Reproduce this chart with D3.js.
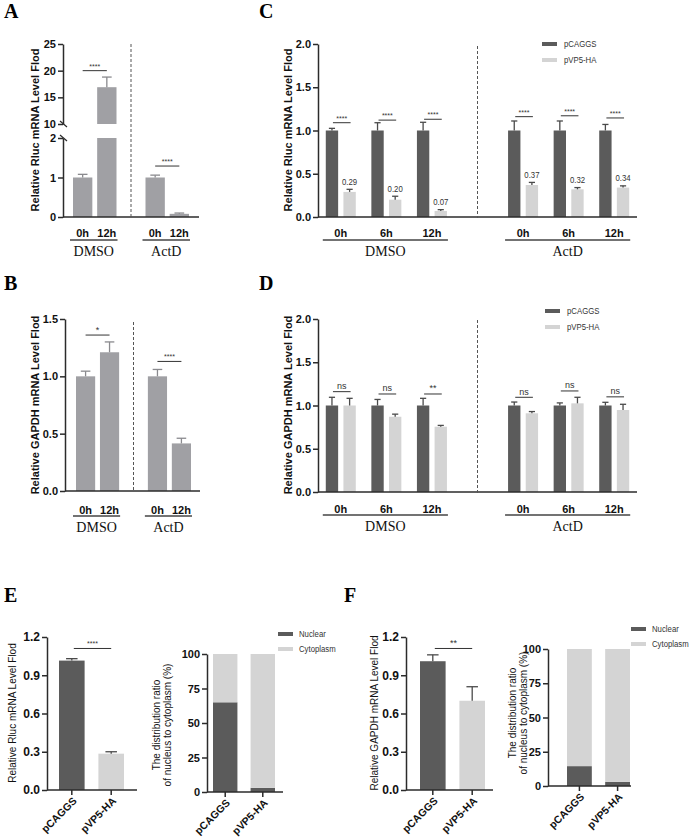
<!DOCTYPE html>
<html>
<head>
<meta charset="utf-8">
<script src="https://cdn.jsdelivr.net/npm/d3@7"></script>
<style>
  body { margin: 0; background: #fff; }
  svg { display: block; }
</style>
</head>
<body>
<svg id="fig" width="692" height="840"></svg>
<script>
const DARK = "#5b5b5b", LIGHT = "#d4d4d4", MID = "#a0a0a4", INK = "#2b2b2b";
const SANS = "'Liberation Sans', Arial, sans-serif";
const SERIF = "'Liberation Serif', 'Times New Roman', serif";

// --- panel A : Rluc, DMSO / ActD, 0h / 12h
const abGroups = ["DMSO", "ActD"];
const abTimes = ["0h", "12h"];
const aValues = [1.0, 16.9, 1.0, 0.08];
const aErrTop = [1.08, 18.8, 1.06, 0.10];
const aSigText = ["****", "****"];
const aSigLevel = [20.0, 1.29];
const aTicksLow = [0, 1, 2];
const aTicksHigh = [10, 15, 20, 25];

// --- panel B : GAPDH
const bValues = [1.0, 1.21, 1.0, 0.415];
const bErrTop = [1.045, 1.30, 1.06, 0.46];
const bSigText = ["*", "****"];
const bSigLevel = [1.36, 1.13];
const bTicks = [0, 0.5, 1.0, 1.5];

// --- panels C / D : pCAGGS vs pVP5-HA at 0h, 6h, 12h
const cdGroups = ["DMSO", "ActD"];
const cdTimes = ["0h", "6h", "12h"];
const seriesNames = ["pCAGGS", "pVP5-HA"];
const cdTicks = [0, 0.5, 1.0, 1.5, 2.0];

const cPCAGGS = [1, 1, 1, 1, 1, 1];
const cPCAGGSErr = [1.025, 1.09, 1.095, 1.11, 1.11, 1.07];
const cVP5 = [0.29, 0.20, 0.07, 0.37, 0.32, 0.34];
const cVP5Err = [0.32, 0.24, 0.085, 0.40, 0.34, 0.36];
const cSigText = ["****", "****", "****", "****", "****", "****"];
const cSigLevel = [1.09, 1.12, 1.13, 1.16, 1.17, 1.145];

const dPCAGGS = [1, 1, 1, 1, 1, 1];
const dPCAGGSErr = [1.095, 1.07, 1.083, 1.04, 1.03, 1.037];
const dVP5 = [1.0, 0.87, 0.755, 0.91, 1.025, 0.948];
const dVP5Err = [1.083, 0.90, 0.77, 0.93, 1.095, 1.014];
const dSigText = ["ns", "ns", "**", "ns", "ns", "ns"];
const dSigLevel = [1.16, 1.133, 1.133, 1.095, 1.168, 1.10];

// --- panels E / F
const efCats = ["pCAGGS", "pVP5-HA"];
const efTicks = [0, 0.3, 0.6, 0.9, 1.2];
const eRluc = [1.015, 0.285];
const eRlucErr = [1.03, 0.30];
const fGapdh = [1.01, 0.70];
const fGapdhErr = [1.06, 0.81];
const stackKeys = ["Nuclear", "Cytoplasm"];
const stackTicks = [0, 25, 50, 75, 100];
const eNuclear = [65, 3];
const eCytoplasm = [35, 97];
const fNuclear = [14.5, 3];
const fCytoplasm = [85.5, 97];

const svg = d3.select("#fig");

function panelLetter(t, x, y) {
  svg.append("text").attr("x", x).attr("y", y).text(t)
    .attr("font-family", SERIF).attr("font-weight", "bold").attr("font-size", 20);
}

// condensed text (the figure uses an Arial Narrow-like face)
function narrowText(x, y, str, fs, anchor) {
  return svg.append("text").attr("transform", `translate(${x},${y}) scale(0.82,1)`)
    .attr("text-anchor", anchor || "start").attr("dy", "0.35em")
    .attr("font-family", SANS).attr("font-size", fs).attr("fill", "#333").text(str);
}

function styleAxis(ax, fs) {
  ax.attr("font-family", SANS).attr("font-weight", "bold").attr("font-size", fs);
  ax.select(".domain").attr("stroke", INK).attr("stroke-width", 1.5);
  ax.selectAll(".tick line").attr("stroke", INK).attr("stroke-width", 1.5);
  ax.selectAll(".tick text").attr("fill", "#111");
}

function leftAxis(y, ticks, x, fmt, fs) {
  const ax = svg.append("g").attr("transform", `translate(${x},0)`)
    .call(d3.axisLeft(y).tickValues(ticks).tickFormat(fmt).tickSize(5).tickSizeOuter(0).tickPadding(2));
  styleAxis(ax, fs);
  return ax;
}

function hLine(x1, x2, y, w, color) {
  svg.append("line").attr("x1", x1).attr("x2", x2).attr("y1", y).attr("y2", y)
    .attr("stroke", color || INK).attr("stroke-width", w || 1.5);
}

function yTitle(lines, cx, cy, bold, fs) {
  const t = svg.append("text")
    .attr("transform", `translate(${cx},${cy}) rotate(-90)`)
    .attr("text-anchor", "middle")
    .attr("font-family", SANS).attr("font-size", fs)
    .attr("font-weight", bold ? "bold" : "normal").attr("fill", "#111");
  const n = lines.length, gap = fs + 0.5;
  lines.forEach((l, i) => {
    t.append("tspan").attr("x", 0).attr("y", (i - (n - 1) / 2) * gap).attr("dy", "0.35em").text(l);
  });
}

function errorBar(cx, yTop, yEnd, cap, color) {
  svg.append("line").attr("x1", cx).attr("x2", cx).attr("y1", yTop).attr("y2", yEnd)
    .attr("stroke", color).attr("stroke-width", 1.3);
  svg.append("line").attr("x1", cx - cap / 2).attr("x2", cx + cap / 2).attr("y1", yEnd).attr("y2", yEnd)
    .attr("stroke", color).attr("stroke-width", 1.3);
}

function sigMark(x1, x2, y, label) {
  hLine(x1, x2, y, 1, "#333");
  const small = label.indexOf("*") >= 0 && label.length > 2;
  svg.append("text").attr("x", (x1 + x2) / 2).attr("y", y - (small ? 2 : 2.5))
    .attr("text-anchor", "middle").attr("font-family", SANS)
    .attr("font-size", small ? 7 : 9).attr("fill", "#333").text(label);
}

function groupLabels(groups, extents, lineY, groupY) {
  groups.forEach((g, gi) => {
    const [a, b] = extents[gi];
    hLine(a, b, lineY, 1.5, "#444");
    svg.append("text").attr("x", (a + b) / 2).attr("y", groupY).attr("text-anchor", "middle")
      .attr("font-family", SERIF).attr("font-size", 14).attr("fill", "#111").text(g);
  });
}

function timeLabel(x, y, t) {
  svg.append("text").attr("x", x).attr("y", y).attr("text-anchor", "middle")
    .attr("font-family", SANS).attr("font-weight", "bold").attr("font-size", 11)
    .attr("fill", "#111").text(t);
}

// A and B: two groups, two times, single grey colour, optional broken axis
function drawTwoGroupPanel(o) {
  const keys = [];
  o.groups.forEach((g, gi) => {
    if (gi > 0) keys.push("gap");
    o.times.forEach(t => keys.push(g + "|" + t));
  });
  const x = d3.scaleBand().domain(keys).range(o.bandRange).paddingInner(0.2);
  const bw = x.bandwidth();
  const segs = o.segments.map(s => ({ s, y: d3.scaleLinear().domain(s.domain).range(s.range) }));
  const yOf = v => (segs.find(d => v <= d.s.domain[1]) || segs[segs.length - 1]).y(v);
  const barKeys = keys.filter(k => k !== "gap");

  barKeys.forEach((k, i) => {
    const v = o.values[i];
    segs.forEach(d => {
      if (v <= d.s.domain[0]) return;
      const top = d.y(Math.min(v, d.s.domain[1]));
      svg.append("rect").attr("x", x(k)).attr("width", bw)
        .attr("y", top).attr("height", d.y(d.s.domain[0]) - top).attr("fill", o.color);
    });
    errorBar(x(k) + bw / 2, yOf(v), yOf(o.errs[i]), bw * 0.5, "#8a8a8e");
  });

  // axes (with break marks between segments)
  segs.forEach(d => leftAxis(d.y, d.s.ticks, o.axisX, o.fmt, 11));
  for (let i = 1; i < segs.length; i++) {
    [segs[i - 1].y(segs[i - 1].s.domain[1]), segs[i].y(segs[i].s.domain[0])].forEach(yy => {
      svg.append("line").attr("x1", o.axisX - 3).attr("x2", o.axisX + 4)
        .attr("y1", yy - 3).attr("y2", yy + 3).attr("stroke", INK).attr("stroke-width", 1.2);
    });
  }
  hLine(o.axisX, o.axisEnd, yOf(0), 1.5);

  // dashed divider
  const gx = x("gap") + bw / 2;
  svg.append("line").attr("x1", gx).attr("x2", gx).attr("y1", o.dashTop).attr("y2", yOf(0) + 1)
    .attr("stroke", "#555").attr("stroke-width", 1).attr("stroke-dasharray", "3,2");

  const extents = [];
  o.groups.forEach((g, gi) => {
    const ks = o.times.map(t => g + "|" + t);
    const c1 = x(ks[0]) + bw / 2, c2 = x(ks[ks.length - 1]) + bw / 2;
    sigMark(c1, c2, yOf(o.sigLevel[gi]), o.sigText[gi]);
    ks.forEach((k, ti) => timeLabel(x(k) + bw / 2, o.labelY, o.times[ti]));
    extents.push([x(ks[0]) - 3, x(ks[ks.length - 1]) + bw + 1]);
  });
  groupLabels(o.groups, extents, o.lineY, o.groupY);
  yTitle([o.title], o.titleX, o.titleY, true, 11);
}

// C and D: pairs of bars per time point
function drawPairPanel(o) {
  const slots = [];
  o.groups.forEach((g, gi) => {
    if (gi > 0) slots.push("gap");
    o.times.forEach(t => slots.push(g + "|" + t));
  });
  const x = d3.scaleBand().domain(slots).range([o.axisX, o.axisEnd]);
  const sub = d3.scaleBand().domain(seriesNames).range([-15, 15]).paddingInner(0.3);
  const bw = sub.bandwidth();
  const y = d3.scaleLinear().domain([0, 2]).range(o.yRange);
  const colors = [DARK, LIGHT];
  const dataSlots = slots.filter(s => s !== "gap");

  dataSlots.forEach((s, i) => {
    const cx = x(s) + x.bandwidth() / 2;
    seriesNames.forEach((name, k) => {
      const v = o.series[k][i], e = o.errs[k][i];
      const bx = cx + sub(name);
      svg.append("rect").attr("x", bx).attr("width", bw).attr("y", y(v))
        .attr("height", y(0) - y(v)).attr("fill", colors[k]);
      errorBar(bx + bw / 2, y(v), y(e), bw * 0.5, "#4a4a4a");
      if (o.showValues && k === 1) {
        narrowText(bx + bw / 2, y(e) - 8, d3.format(".2f")(v), 9.5, "middle");
      }
    });
    const c1 = cx + sub(seriesNames[0]) + bw / 2, c2 = cx + sub(seriesNames[1]) + bw / 2;
    sigMark(c1 + 1, c2 + 1, y(o.sigLevel[i]), o.sigText[i]);
  });

  leftAxis(y, cdTicks, o.axisX, d3.format(".1f"), 11);
  hLine(o.axisX, o.axisEnd, y(0), 1.5);

  const gx = x("gap") + x.bandwidth() / 2;
  svg.append("line").attr("x1", gx).attr("x2", gx).attr("y1", o.dashTop).attr("y2", y(0) + 1)
    .attr("stroke", "#555").attr("stroke-width", 1).attr("stroke-dasharray", "3,2");

  const extents = [];
  o.groups.forEach(g => {
    const ks = o.times.map(t => g + "|" + t);
    ks.forEach((k, ti) => timeLabel(x(k) + x.bandwidth() / 2, o.labelY, o.times[ti]));
    const first = x(ks[0]) + x.bandwidth() / 2 + sub(seriesNames[0]);
    const last = x(ks[ks.length - 1]) + x.bandwidth() / 2 + sub(seriesNames[1]) + bw;
    extents.push([first - 3, last + 1]);
  });
  groupLabels(o.groups, extents, o.lineY, o.groupY);

  // legend
  seriesNames.forEach((name, k) => {
    const ly = o.legend[1] + k * 16;
    svg.append("rect").attr("x", o.legend[0]).attr("y", ly - 2).attr("width", 15).attr("height", 4).attr("fill", colors[k]);
    narrowText(o.legend[0] + 22, ly, name, 9.5);
  });
  yTitle([o.title], o.titleX, o.titleY, true, 11);
}

function bottomCatAxis(x, yPos, axisX, axisEnd) {
  const ax = svg.append("g").attr("transform", `translate(0,${yPos})`)
    .call(d3.axisBottom(x).tickSize(5).tickSizeOuter(0));
  styleAxis(ax, 10.5);
  ax.select(".domain").remove();
  ax.selectAll(".tick text")
    .attr("text-anchor", "end").attr("x", 0).attr("y", 0).attr("dy", "0.35em")
    .attr("transform", "translate(3,9) rotate(-45)");
  hLine(axisX, axisEnd, yPos, 1.5);
}

// E / F left: two bars
function drawTwoBars(o) {
  const x = d3.scaleBand().domain(efCats).range(o.bandRange).paddingInner(0.35);
  const bw = x.bandwidth();
  const y = d3.scaleLinear().domain([0, 1.2]).range(o.yRange);
  const colors = [DARK, LIGHT];
  efCats.forEach((c, i) => {
    svg.append("rect").attr("x", x(c)).attr("width", bw).attr("y", y(o.values[i]))
      .attr("height", y(0) - y(o.values[i])).attr("fill", colors[i]);
    errorBar(x(c) + bw / 2, y(o.values[i]), y(o.errs[i]), bw * 0.45, "#4a4a4a");
  });
  leftAxis(y, efTicks, o.axisX, d3.format(".1f"), 12);
  bottomCatAxis(x, y(0), o.axisX, o.axisEnd);
  sigMark(x(efCats[0]) + bw / 2 + 2, x(efCats[1]) + bw / 2, y(o.sigLevel), o.sigText);
  yTitle([o.title], o.titleX, o.titleY, false, 10);
}

// E / F right: stacked percentage bars
function drawStack(o) {
  const x = d3.scaleBand().domain(efCats).range(o.bandRange).paddingInner(0.35);
  const y = d3.scaleLinear().domain([0, 100]).range(o.yRange);
  const rows = efCats.map((c, i) => ({ cat: c, Nuclear: o.nuclear[i], Cytoplasm: o.cytoplasm[i] }));
  const color = d3.scaleOrdinal().domain(stackKeys).range([DARK, LIGHT]);
  const layers = d3.stack().keys(stackKeys)(rows);
  svg.append("g").selectAll("g").data(layers).join("g").attr("fill", d => color(d.key))
    .selectAll("rect").data(d => d).join("rect")
    .attr("x", d => x(d.data.cat)).attr("width", x.bandwidth())
    .attr("y", d => y(d[1])).attr("height", d => y(d[0]) - y(d[1]));
  leftAxis(y, stackTicks, o.axisX, d3.format("d"), 11);
  bottomCatAxis(x, y(0), o.axisX, o.axisEnd);
  stackKeys.forEach((k, i) => {
    const ly = o.legend[1] + i * 15;
    svg.append("rect").attr("x", o.legend[0]).attr("y", ly - 2).attr("width", 15).attr("height", 4).attr("fill", color(k));
    narrowText(o.legend[0] + 21, ly, k, 9.5);
  });
  yTitle(["The distribution ratio", "of nucleus to cytoplasm (%)"], o.titleX, o.titleY, false, 10);
}

panelLetter("A", 4, 18);
panelLetter("B", 4, 290);
panelLetter("C", 259, 18);
panelLetter("D", 259, 290);
panelLetter("E", 4, 602);
panelLetter("F", 344, 602);

drawTwoGroupPanel({
  groups: abGroups, times: abTimes, values: aValues, errs: aErrTop,
  sigText: aSigText, sigLevel: aSigLevel,
  segments: [
    { domain: [0, 2], range: [217, 138], ticks: aTicksLow },
    { domain: [10, 25], range: [124, 44], ticks: aTicksHigh }
  ],
  axisX: 63, axisEnd: 199, bandRange: [73, 189], color: MID, fmt: d3.format("d"),
  dashTop: 44, labelY: 237, lineY: 240, groupY: 256,
  title: "Relative Rluc mRNA Level Flod", titleX: 35, titleY: 130
});

drawTwoGroupPanel({
  groups: abGroups, times: abTimes, values: bValues, errs: bErrTop,
  sigText: bSigText, sigLevel: bSigLevel,
  segments: [{ domain: [0, 1.5], range: [491, 319], ticks: bTicks }],
  axisX: 65, axisEnd: 200, bandRange: [76, 191], color: MID, fmt: d3.format(".1f"),
  dashTop: 322, labelY: 514, lineY: 516, groupY: 532,
  title: "Relative GAPDH mRNA Level Flod", titleX: 35, titleY: 405
});

drawPairPanel({
  groups: cdGroups, times: cdTimes,
  series: [cPCAGGS, cVP5], errs: [cPCAGGSErr, cVP5Err],
  sigText: cSigText, sigLevel: cSigLevel, showValues: true,
  axisX: 318, axisEnd: 637, yRange: [217, 44], dashTop: 46,
  labelY: 237, lineY: 240, groupY: 256, legend: [542, 44],
  title: "Relative Rluc mRNA Level Flod", titleX: 288, titleY: 130
});

drawPairPanel({
  groups: cdGroups, times: cdTimes,
  series: [dPCAGGS, dVP5], errs: [dPCAGGSErr, dVP5Err],
  sigText: dSigText, sigLevel: dSigLevel, showValues: false,
  axisX: 318, axisEnd: 637, yRange: [492, 319], dashTop: 320,
  labelY: 513, lineY: 515, groupY: 531, legend: [545, 311],
  title: "Relative GAPDH mRNA Level Flod", titleX: 288, titleY: 405
});

drawTwoBars({
  values: eRluc, errs: eRlucErr, sigText: "****", sigLevel: 1.11,
  bandRange: [59, 124], yRange: [790, 637], axisX: 47, axisEnd: 137,
  title: "Relative Rluc mRNA Level Flod", titleX: 12, titleY: 713
});
drawStack({
  nuclear: eNuclear, cytoplasm: eCytoplasm,
  bandRange: [213, 275], yRange: [792, 654], axisX: 207, axisEnd: 283,
  legend: [278, 634], titleX: 162, titleY: 725
});
drawTwoBars({
  values: fGapdh, errs: fGapdhErr, sigText: "**", sigLevel: 1.11,
  bandRange: [420, 485], yRange: [790, 637], axisX: 406, axisEnd: 493,
  title: "Relative GAPDH mRNA Level Flod", titleX: 374, titleY: 713
});
drawStack({
  nuclear: fNuclear, cytoplasm: fCytoplasm,
  bandRange: [567, 630], yRange: [786, 649], axisX: 548, axisEnd: 631,
  legend: [631, 629], titleX: 518, titleY: 713
});
</script>
</body>
</html>
